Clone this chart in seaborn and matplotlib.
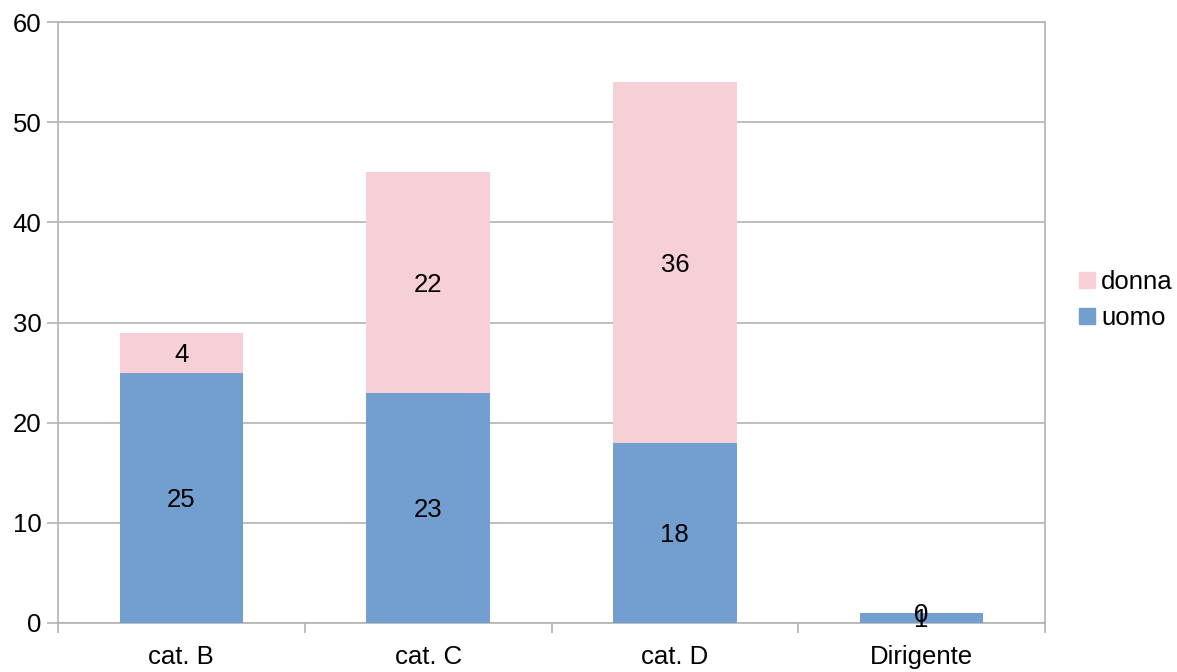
import matplotlib
matplotlib.use("Agg")
import matplotlib.pyplot as plt
import seaborn as sns
import pandas as pd
import numpy as np
from matplotlib.lines import Line2D

categories = ["cat. B", "cat. C", "cat. D", "Dirigente"]
uomo = [25, 23, 18, 1]
donna = [4, 22, 36, 0]
y_ticks = [0, 10, 20, 30, 40, 50, 60]

color_uomo = "#729fcf"
color_donna = "#f7cfd6"
grid_color = "#b3b3b3"

sns.set_theme(style="white")
plt.rcParams["font.family"] = ["Liberation Sans", "DejaVu Sans"]
plt.rcParams["text.color"] = "black"

df = pd.DataFrame({"categoria": categories, "uomo": uomo, "donna": donna})
df["totale"] = df["uomo"] + df["donna"]

fig = plt.figure(figsize=(11.77, 6.72), dpi=100)
ax = fig.add_axes([58 / 1177, 1 - 623 / 672, (1045 - 58) / 1177, (623 - 22) / 672])

# stacked bars: full height in the upper colour, lower series drawn over it
sns.barplot(data=df, x="categoria", y="totale", color=color_donna, width=0.5,
            saturation=1, linewidth=0, ax=ax, zorder=3)
sns.barplot(data=df, x="categoria", y="uomo", color=color_uomo, width=0.5,
            saturation=1, linewidth=0, ax=ax, zorder=4)

fs = 18.5
for i, (u, d) in enumerate(zip(uomo, donna)):
    ax.text(i, u / 2, str(u), ha="center", va="center_baseline", fontsize=fs,
            color="black", zorder=5)
    ax.text(i, u + d / 2, str(d), ha="center", va="center_baseline", fontsize=fs,
            color="black", zorder=5)

ax.set_xlim(-0.5, len(categories) - 0.5)
ax.set_ylim(0, 60)
ax.set_yticks(y_ticks)
ax.set_yticklabels([str(t) for t in y_ticks], fontsize=fs, color="black")
ax.yaxis.grid(True, color=grid_color, linewidth=1.2, zorder=0)
ax.set_axisbelow(True)

ax.set_xticks(range(len(categories)))
ax.set_xticklabels(categories, fontsize=fs, color="black")
ax.set_xticks(np.arange(-0.5, len(categories)), minor=True)
ax.tick_params(axis="x", which="major", bottom=True, length=0, pad=16)
ax.tick_params(axis="x", which="minor", bottom=True, length=7.5, width=1.2, color=grid_color)
ax.tick_params(axis="y", which="major", left=True, length=8, width=1.2, color=grid_color, pad=4)
ax.set_xlabel("")
ax.set_ylabel("")

for s in ax.spines.values():
    s.set_color(grid_color)
    s.set_linewidth(1.2)
    s.set_visible(True)

handles = [
    Line2D([], [], marker="s", linestyle="none", markersize=12,
           markerfacecolor=color_donna, markeredgecolor=color_donna),
    Line2D([], [], marker="s", linestyle="none", markersize=12,
           markerfacecolor=color_uomo, markeredgecolor=color_uomo),
]
fig.legend(handles, ["donna", "uomo"], loc="center left",
           bbox_to_anchor=(1074 / 1177, 1 - 300 / 672), frameon=False,
           borderpad=0, borderaxespad=0,
           fontsize=fs, handletextpad=0.05, labelspacing=0.45, handlelength=1.0)

fig.savefig("out.png", dpi=100)
